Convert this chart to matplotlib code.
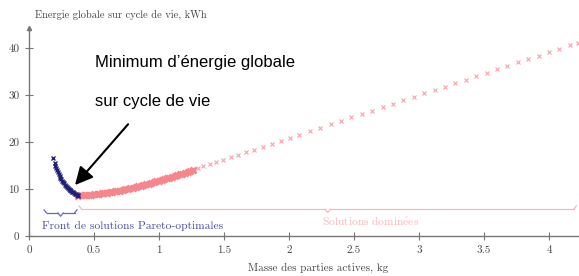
import matplotlib
matplotlib.use("Agg")
import matplotlib.pyplot as plt
import numpy as np

# ---------------- data ----------------
pareto_x = [0.187, 0.197, 0.203, 0.209, 0.215, 0.221, 0.228, 0.235, 0.242, 0.249,
            0.256, 0.263, 0.270, 0.277, 0.284, 0.291, 0.298, 0.305, 0.312, 0.319,
            0.326, 0.333, 0.340, 0.347, 0.354, 0.361, 0.368, 0.375, 0.380]
pareto_y = [16.6, 15.5, 14.9, 14.4, 14.0, 13.6, 13.2, 12.8, 12.4, 12.1,
            11.8, 11.5, 11.2, 10.9, 10.7, 10.5, 10.3, 10.1, 9.9, 9.75,
            9.6, 9.45, 9.3, 9.15, 9.05, 8.9, 8.75, 8.65, 8.6]

dominated_dense_x = [0.38, 0.40, 0.42, 0.44, 0.46, 0.48, 0.50, 0.52, 0.54, 0.56,
                     0.58, 0.60, 0.62, 0.64, 0.66, 0.68, 0.70, 0.72, 0.74, 0.76,
                     0.78, 0.80, 0.82, 0.84, 0.86, 0.88, 0.90, 0.92, 0.94, 0.96,
                     0.98, 1.00, 1.02, 1.04, 1.06, 1.08, 1.10, 1.12, 1.14, 1.16,
                     1.18, 1.20, 1.22, 1.24, 1.26]
dominated_dense_y = [8.60, 8.63, 8.67, 8.71, 8.76, 8.81, 8.87, 8.93, 8.99, 9.06,
                     9.14, 9.22, 9.31, 9.40, 9.49, 9.59, 9.69, 9.80, 9.92, 10.04,
                     10.16, 10.29, 10.42, 10.56, 10.70, 10.85, 10.99, 11.14, 11.30, 11.45,
                     11.61, 11.77, 11.93, 12.10, 12.26, 12.43, 12.60, 12.78, 12.95, 13.13,
                     13.31, 13.50, 13.68, 13.87, 14.06]

dominated_sparse_x = [1.30, 1.34, 1.39, 1.44, 1.49, 1.55, 1.61, 1.67, 1.73, 1.80,
                      1.87, 1.94, 2.01, 2.08, 2.16, 2.24, 2.32, 2.40, 2.48, 2.56,
                      2.64, 2.72, 2.80, 2.88, 2.96, 3.04, 3.12, 3.20, 3.28, 3.36,
                      3.44, 3.52, 3.60, 3.68, 3.76, 3.84, 3.92, 4.00, 4.08, 4.16, 4.22]
dominated_sparse_y = [14.45, 14.82, 15.27, 15.73, 16.19, 16.74, 17.29, 17.84, 18.38, 19.03,
                      19.67, 20.31, 20.95, 21.59, 22.32, 23.05, 23.78, 24.52, 25.25, 25.98,
                      26.71, 27.44, 28.18, 28.91, 29.64, 30.37, 31.10, 31.84, 32.57, 33.30,
                      34.03, 34.76, 35.50, 36.23, 36.96, 37.69, 38.42, 39.16, 39.89, 40.62, 41.17]

xticks = [0, 0.5, 1, 1.5, 2, 2.5, 3, 3.5, 4]
xtick_labels = ["0", "0.5", "1", "1.5", "2", "2.5", "3", "3.5", "4"]
yticks = [0, 10, 20, 30, 40]
ytick_labels = ["0", "10", "20", "30", "40"]

# ---------------- style ----------------
serif = ["cmr10", "DejaVu Serif"]
plt.rcParams["axes.formatter.use_mathtext"] = True
plt.rcParams["mathtext.fontset"] = "cm"

W, H = 579, 276
fig = plt.figure(figsize=(W / 100, H / 100), dpi=100)
ax = fig.add_axes([29 / W, 40 / H, 550 / W, 208 / H])
ax.set_xlim(0, 4.23)
ax.set_ylim(0, 44.3)

navy = "#1f1f7a"
pink = "#f7868c"
pale = "#f4a4aa"
paler = "#f6b8bc"
gray = "#777777"

ax.plot(dominated_sparse_x, dominated_sparse_y, linestyle="none", marker="x",
        ms=3.5, mew=0.8, color=pale, zorder=2)
ax.plot(dominated_dense_x, dominated_dense_y, linestyle="none", marker="x",
        ms=5, mew=2.0, color=pink, zorder=2)
ax.plot(pareto_x, pareto_y, linestyle="none", marker="x",
        ms=3.5, mew=1.0, color=navy, zorder=3)

# spines
for s in ["top", "right"]:
    ax.spines[s].set_visible(False)
for s in ["left", "bottom"]:
    ax.spines[s].set_color(gray)
    ax.spines[s].set_linewidth(1.0)
ax.plot([0], [44.3], marker="^", ms=3, color=gray, clip_on=False, zorder=5)

ax.set_xticks(xticks, xtick_labels)
ax.set_yticks(yticks, ytick_labels)
ax.tick_params(direction="inout", length=6, width=0.8, color=gray,
               labelcolor="#444444", labelsize=8, pad=4)
for lab in ax.get_xticklabels() + ax.get_yticklabels():
    lab.set_family(serif)

fig.text(35 / W, 1 - 15 / H, "Energie globale sur cycle de vie, kWh",
         family=serif, fontsize=7.5, color="#444444", ha="left", va="center")
fig.text(318 / W, 1 - 268 / H, "Masse des parties actives, kg",
         family=serif, fontsize=8, color="#444444", ha="center", va="center")

# braces
def hbrace(x0, x1, y, color, lw=0.9):
    xm = (x0 + x1) / 2
    c = 0.02
    ax.plot([x0, x0 + c], [y + 0.7, y], color=color, lw=lw, solid_capstyle="round")
    ax.plot([x0 + c, xm - c], [y, y], color=color, lw=lw)
    ax.plot([xm - c, xm, xm + c], [y, y - 0.7, y], color=color, lw=lw)
    ax.plot([xm + c, x1 - c], [y, y], color=color, lw=lw)
    ax.plot([x1 - c, x1], [y, y + 0.7], color=color, lw=lw)

hbrace(0.115, 0.37, 4.9, "#6a6ab8")
hbrace(0.385, 4.21, 5.7, paler)

ax.text(0.1, 2.1, "Front de solutions Pareto-optimales", family=serif,
        fontsize=8.3, color="#4a4aa0", ha="left", va="center")
ax.text(2.63, 3.05, r"$\mathrm{Solutions\ domin\acute{e}es}$",
        fontsize=8.3, color=paler, ha="center", va="center")

# annotation
ax.annotate("", xy=(0.354, 10.85), xytext=(0.762, 23.8),
            arrowprops=dict(arrowstyle="-|>,head_length=0.9,head_width=0.45",
                            color="black", lw=1.5, mutation_scale=12,
                            shrinkA=0, shrinkB=0))
fig.text(95 / W, 1 - 62 / H, "Minimum d’énergie globale", family="Liberation Sans",
         fontsize=12, color="black", ha="left", va="center")
fig.text(95 / W, 1 - 101 / H, "sur cycle de vie", family="Liberation Sans",
         fontsize=12, color="black", ha="left", va="center")

fig.savefig("out.png", dpi=100)
